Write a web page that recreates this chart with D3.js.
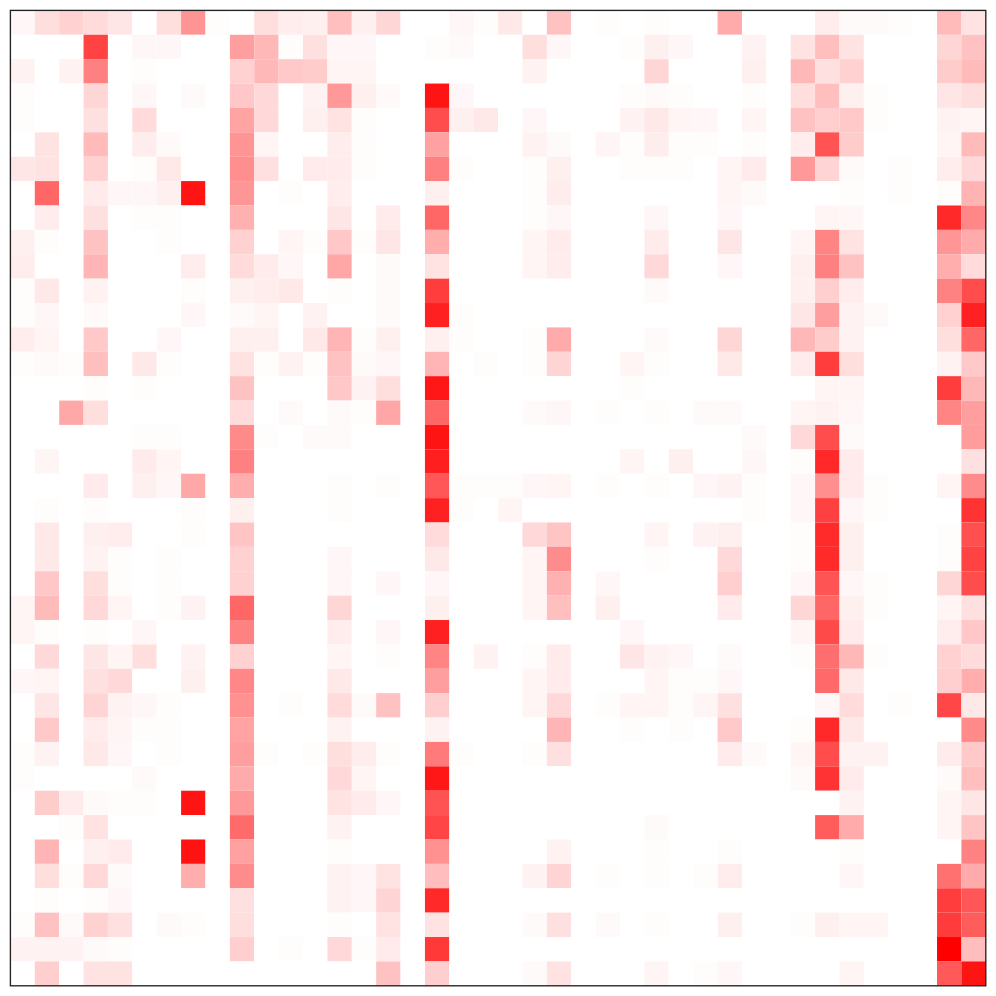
<!DOCTYPE html>
<html>
<head>
<meta charset="utf-8">
<script src="https://cdn.jsdelivr.net/npm/d3@7"></script>
<style>
  html, body { margin: 0; padding: 0; background: #fff; }
</style>
</head>
<body>
<div id="chart"></div>
<script>
const columns = d3.range(40)
const rows = d3.range(40)

// one object per row, column index -> intensity (0-100), missing means 0
const heatRows = [
  {0:3,1:13,2:18,3:14,4:10,6:13,7:42,8:1,10:13,11:7,12:6,13:25,14:6,15:16,18:3,19:1,20:9,22:24,24:1,26:1,29:33,33:7,34:2,35:2,36:1,38:27,39:11},
  {3:74,5:3,6:3,9:38,10:28,11:1,12:12,13:3,14:3,17:1,18:2,21:13,22:3,25:1,26:6,27:3,30:5,32:11,33:25,34:11,38:16,39:24},
  {0:5,2:5,3:50,5:1,9:18,10:28,11:21,12:20,13:4,14:4,21:5,26:16,30:6,32:28,33:12,34:18,38:20,39:27},
  {0:1,3:16,5:3,7:2,9:22,10:15,12:5,13:40,14:6,15:2,17:92,18:3,25:1,26:2,27:1,30:1,32:13,33:25,34:6,35:1,38:10,39:13},
  {0:1,3:12,5:14,9:36,10:15,12:6,13:11,14:1,17:70,18:6,19:9,21:3,25:5,26:9,27:4,28:3,30:4,32:24,33:19,34:21,35:1,38:5,39:4},
  {1:11,3:27,5:7,6:2,9:42,10:4,13:7,14:1,17:37,21:5,22:2,24:4,25:1,26:7,27:1,28:1,30:1,32:7,33:67,34:20,38:4,39:27},
  {0:10,1:11,3:18,5:1,6:9,9:44,10:12,12:8,13:8,14:1,17:50,18:1,21:1,22:6,25:1,26:1,27:1,29:4,30:8,32:40,33:17,34:2,36:1,38:7,39:15},
  {1:60,3:8,4:3,5:3,6:6,7:92,9:41,11:1,13:7,17:6,21:1,22:7,29:4,30:2,34:1,36:1,38:1,39:30},
  {1:7,3:12,5:1,6:1,9:31,13:10,15:8,17:60,21:1,22:3,26:3,29:3,33:4,34:3,38:84,39:47},
  {0:6,1:1,3:24,6:1,9:18,11:4,12:1,13:22,14:1,15:10,17:32,21:4,22:8,26:8,29:10,32:4,33:48,34:11,38:41,39:33},
  {0:7,3:29,7:7,9:14,10:8,11:3,13:35,15:2,17:11,21:4,22:7,26:15,29:3,32:6,33:50,34:24,38:32,39:14},
  {0:1,1:9,3:5,7:1,9:6,10:7,11:9,13:1,15:2,17:76,26:2,32:6,33:19,34:7,38:49,39:70},
  {0:1,1:3,3:2,7:3,9:2,10:4,12:5,15:2,17:87,18:1,32:10,33:38,34:5,35:2,38:18,39:87},
  {0:7,1:4,3:21,6:3,9:6,10:6,12:9,13:29,14:1,15:6,17:6,18:1,21:1,22:33,26:2,29:16,32:28,33:20,34:5,38:13,39:60},
  {0:1,1:2,2:1,3:25,5:9,6:1,9:11,10:1,11:5,12:1,13:24,14:2,15:3,17:29,19:1,21:1,22:17,25:4,26:1,29:9,32:8,33:76,34:13,38:5,39:21},
  {3:1,5:1,9:24,13:22,14:5,15:13,17:91,25:1,33:4,34:4,38:76,39:28},
  {2:34,3:13,9:14,11:2,13:2,14:1,15:35,17:60,21:2,22:3,24:1,26:1,28:2,29:2,32:4,33:5,34:3,38:48,39:38},
  {5:1,6:1,9:46,10:1,12:2,13:2,17:92,30:2,32:15,33:70,34:2,39:39},
  {1:4,5:8,6:4,9:50,17:88,25:4,27:6,30:3,32:1,33:84,34:8,39:12},
  {3:8,5:6,6:3,7:34,9:32,13:1,15:1,17:66,18:1,19:1,20:1,21:3,22:4,24:1,26:1,28:3,29:5,30:1,32:3,33:44,34:8,35:1,38:4,39:45},
  {1:1,3:1,7:1,9:6,13:1,17:87,18:1,20:4,30:1,32:3,33:75,34:3,35:1,39:80},
  {1:9,3:6,4:7,7:1,9:23,17:14,21:15,22:23,26:4,28:5,29:6,32:1,33:83,34:6,38:1,39:69},
  {1:9,3:5,4:1,6:1,9:18,13:3,17:9,21:4,22:45,26:1,29:15,32:1,33:83,34:6,38:1,39:74},
  {1:22,3:13,4:1,6:1,9:18,13:3,15:3,17:3,21:4,22:31,24:3,29:19,32:3,33:67,34:3,35:1,38:16,39:70},
  {0:4,1:27,3:15,4:4,6:1,7:5,9:60,13:16,17:6,21:4,22:25,24:6,29:8,32:16,33:60,34:6,35:1,38:4,39:12},
  {0:4,1:1,3:1,5:3,9:49,13:7,15:3,17:87,25:3,32:4,33:71,34:8,38:7,39:22},
  {1:15,3:10,4:4,5:13,7:5,9:18,13:4,15:1,17:48,19:5,21:1,22:8,25:10,26:5,27:3,29:2,32:1,33:57,34:28,35:1,38:18,39:14},
  {0:3,1:4,3:12,4:15,7:6,9:47,13:9,17:38,21:4,22:8,26:4,27:1,28:1,29:3,33:59,34:9,38:19,39:32},
  {1:10,3:17,4:5,5:3,6:1,9:43,11:1,13:14,14:2,15:24,17:19,21:4,22:15,24:1,25:4,26:4,27:1,28:4,29:12,33:3,34:14,36:1,38:72,39:9},
  {1:21,3:7,4:4,5:1,6:1,9:36,13:5,17:5,22:29,25:1,27:1,29:21,32:1,33:84,34:9,39:46},
  {0:1,1:5,3:9,4:3,6:1,9:38,10:1,12:1,13:13,14:7,15:1,17:52,18:1,21:1,22:12,29:8,30:2,32:4,33:70,34:5,35:5,38:8,39:21},
  {0:1,5:2,9:33,13:15,14:4,17:91,32:2,33:80,34:8,38:2,39:25},
  {1:20,2:8,3:2,4:1,5:1,7:92,9:40,13:11,14:8,15:3,17:68,34:5,38:4,39:10},
  {2:1,3:11,9:58,13:5,17:73,26:2,33:64,34:33,38:4,39:23},
  {1:29,3:6,4:8,7:93,9:37,13:1,17:43,22:5,26:1,29:1,34:1,39:49},
  {1:13,2:1,3:15,4:2,7:32,9:45,13:5,14:3,15:11,17:26,21:5,22:17,24:1,26:1,28:1,29:7,34:3,38:56,39:33},
  {1:1,3:1,4:3,9:12,13:5,14:3,15:17,17:84,38:76,39:66},
  {0:1,1:24,2:2,3:18,4:12,6:2,7:1,9:13,13:1,15:11,17:11,21:2,22:12,24:2,26:1,29:6,32:1,33:6,34:4,35:4,38:77,39:64},
  {0:5,1:5,2:5,3:2,4:1,9:19,11:1,13:15,14:1,15:8,17:78,38:100,39:26},
  {1:19,3:11,4:11,15:24,17:19,21:2,22:11,26:4,28:1,29:3,34:4,38:65,39:92}
]

const size = 996
const left = 10.4
const right = 985.8

const svg = d3.select("#chart")
  .append("svg")
  .attr("width", size)
  .attr("height", size)
  .style("display", "block")

const x = d3.scaleBand().domain(columns).range([left, right])
const y = d3.scaleBand().domain(rows).range([left, right])
const color = d3.scaleLinear().domain([0, 100]).range(["#ffffff", "#ff0000"])

const cells = rows.flatMap(r => columns.map(c => ({ r, c, value: heatRows[r][c] || 0 })))

svg.append("g")
  .selectAll("rect")
  .data(cells)
  .enter()
  .append("rect")
  .attr("x", d => x(d.c))
  .attr("y", d => y(d.r))
  .attr("width", x.bandwidth())
  .attr("height", y.bandwidth())
  .attr("fill", d => color(d.value))

// frame round the plot
svg.append("rect")
  .attr("x", left)
  .attr("y", left)
  .attr("width", right - left)
  .attr("height", right - left)
  .attr("fill", "none")
  .attr("stroke", "#222")
  .attr("stroke-width", 1.35)
</script>
</body>
</html>
